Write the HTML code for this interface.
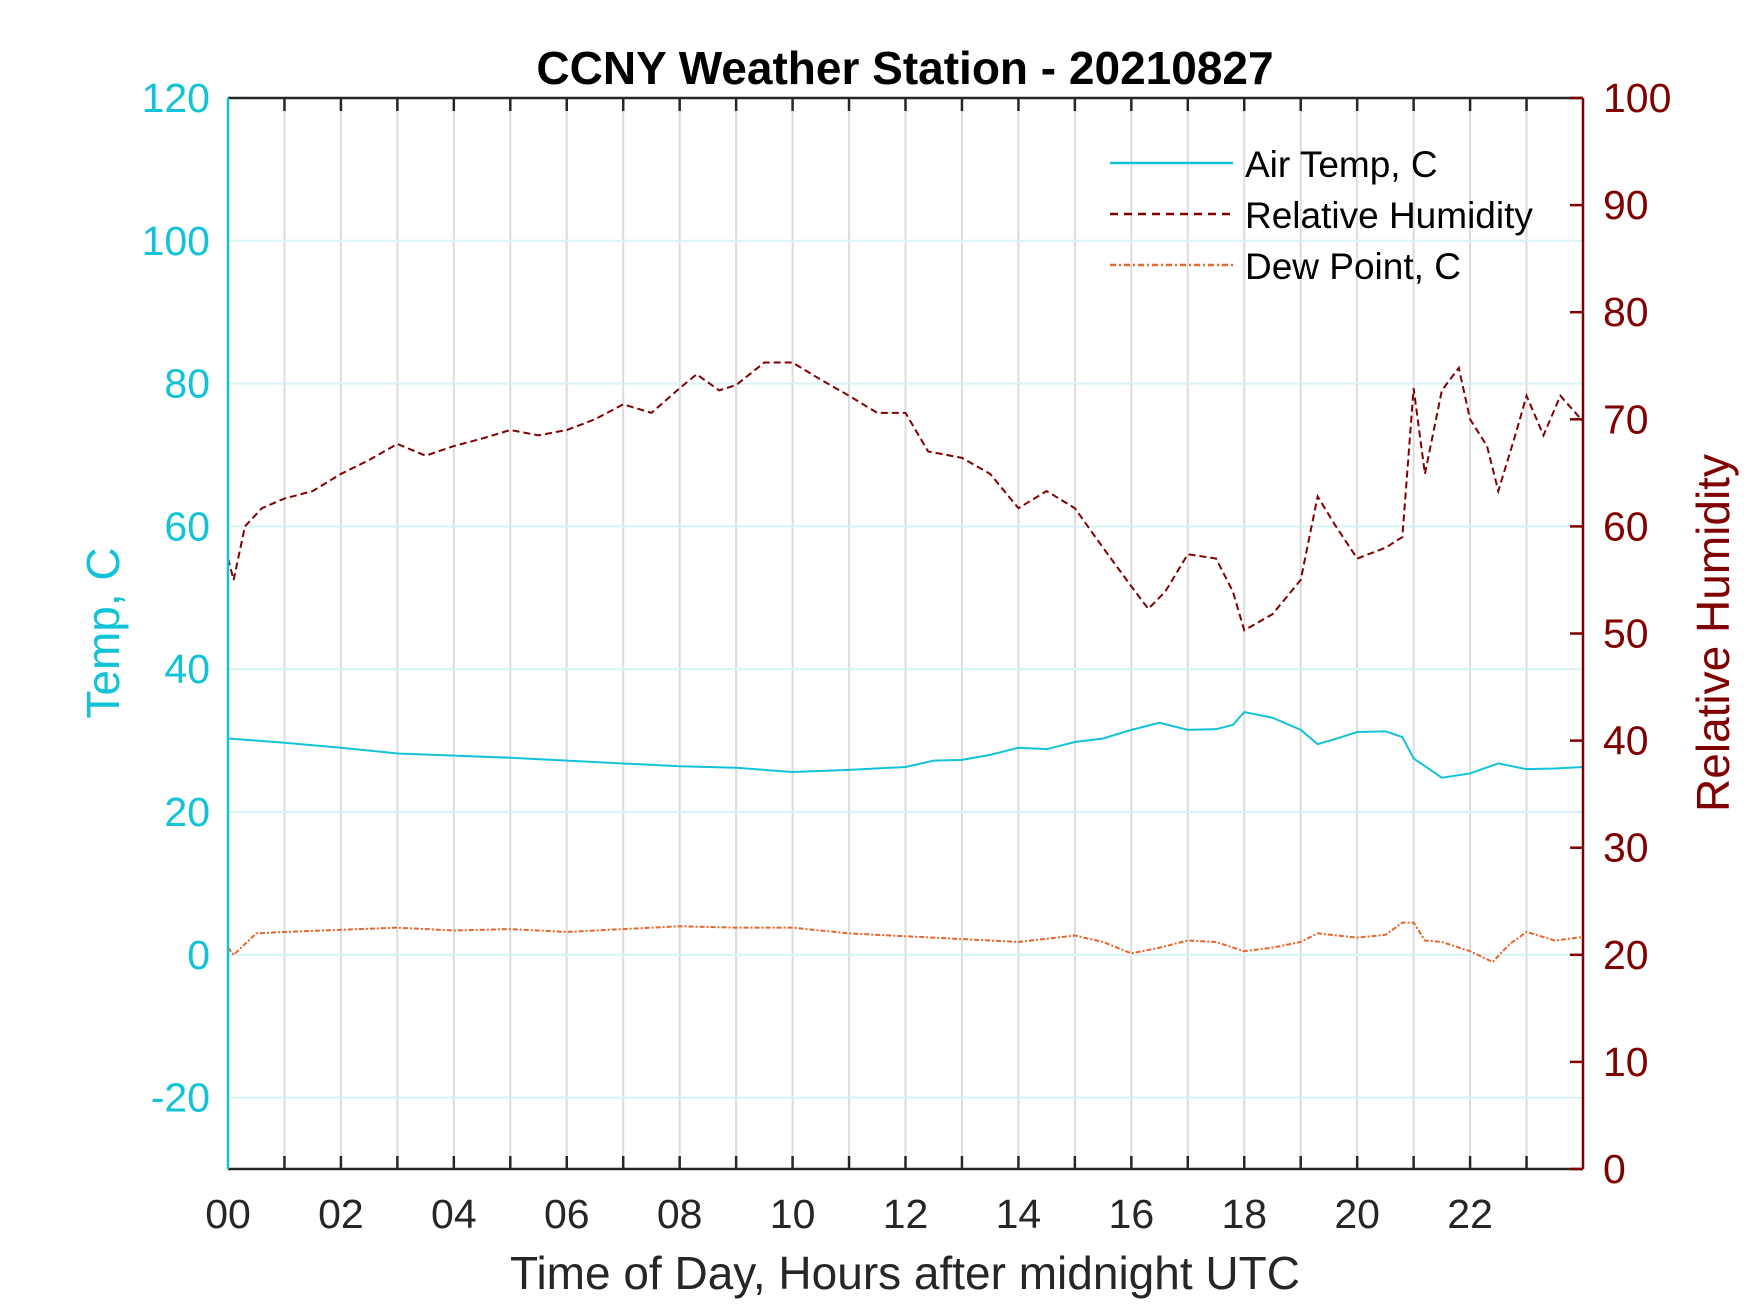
<!DOCTYPE html>
<html><head><meta charset="utf-8"><style>
body{margin:0;background:#fff}
svg{display:block;font-family:"Liberation Sans",Arial,sans-serif}
</style></head><body>
<svg id="chart" width="1750" height="1313" viewBox="0 0 1750 1313" xmlns="http://www.w3.org/2000/svg">
<rect width="1750" height="1313" fill="#fff"/>
<g id="grid"></g>
<g id="series"></g>
<g id="axes"></g>
<text x="905" y="84" text-anchor="middle" font-size="46" font-weight="bold" fill="#000">CCNY Weather Station - 20210827</text>
<text x="905" y="1289" text-anchor="middle" font-size="46" fill="#262626">Time of Day, Hours after midnight UTC</text>
<text transform="translate(119,633) rotate(-90)" text-anchor="middle" font-size="46" fill="#12c3d8">Temp, C</text>
<text transform="translate(1729,633) rotate(-90)" text-anchor="middle" font-size="46" fill="#800000">Relative Humidity</text>
<g>
<line x1="1110" y1="163" x2="1233" y2="163" stroke="#12c3d8" stroke-width="2.5"/>
<text x="1245" y="177" font-size="37" fill="#000">Air Temp, C</text>
<line x1="1110" y1="214" x2="1233" y2="214" stroke="#800000" stroke-width="2.5" stroke-dasharray="8 6"/>
<text x="1245" y="228" font-size="37" fill="#000">Relative Humidity</text>
<line x1="1110" y1="265" x2="1233" y2="265" stroke="#e8652a" stroke-width="2.5" stroke-dasharray="6 3 2 3"/>
<text x="1245" y="279" font-size="37" fill="#000">Dew Point, C</text>
</g>
</svg>
<script>
const tempHours=[0,1,2,3,4,5,6,7,8,9,10,11,12,12.5,13,13.5,14,14.5,15,15.5,16,16.5,17,17.5,17.8,18,18.5,19,19.3,19.6,20,20.5,20.8,21,21.5,22,22.5,23,23.5,24];
const tempValues=[30.3,29.7,29.0,28.2,27.9,27.6,27.2,26.8,26.4,26.2,25.6,25.9,26.3,27.2,27.3,28.0,29.0,28.8,29.8,30.3,31.5,32.5,31.5,31.6,32.2,34.0,33.2,31.5,29.5,30.2,31.2,31.3,30.5,27.5,24.8,25.4,26.8,26.0,26.1,26.3];
const rhHours=[0,0.1,0.3,0.6,1,1.5,2,2.5,3,3.5,4,4.5,5,5.5,6,6.5,7,7.5,8,8.3,8.7,9,9.5,10,10.5,11,11.5,12,12.4,13,13.5,14,14.5,15,15.5,16,16.3,16.6,17,17.5,17.8,18,18.5,19,19.3,19.6,20,20.5,20.8,21,21.2,21.5,21.8,22,22.3,22.5,22.8,23,23.3,23.6,24];
const rhValues=[57,55,60,61.7,62.6,63.3,64.9,66.2,67.7,66.6,67.5,68.2,69,68.5,69,70,71.4,70.6,72.9,74.2,72.7,73.2,75.3,75.3,73.7,72.2,70.6,70.6,67,66.4,64.9,61.7,63.3,61.7,58,54.4,52.3,53.9,57.4,57,53.9,50.3,51.8,55,62.8,60.2,57,58,59,72.9,64.9,72.7,74.8,70,67.5,63.3,68.5,72.2,68.5,72.2,69.8];
const dewHours=[0,0.1,0.5,1,2,3,4,5,6,7,8,9,10,11,12,13,14,15,15.5,16,16.5,17,17.5,18,18.5,19,19.3,20,20.5,20.8,21,21.2,21.5,22,22.4,22.7,23,23.5,24];
const dewValues=[1,0,3,3.2,3.5,3.8,3.4,3.6,3.2,3.6,4.0,3.8,3.8,3.0,2.6,2.2,1.8,2.7,1.8,0.2,1.0,2.0,1.8,0.5,1.0,1.8,3.0,2.4,2.8,4.5,4.5,2.0,1.8,0.5,-1,1.5,3.2,2.0,2.5];
const xTicks=[0,2,4,6,8,10,12,14,16,18,20,22];
const xTickLabels=["00","02","04","06","08","10","12","14","16","18","20","22"];
const tempTicks=[-20,0,20,40,60,80,100,120];
const rhTicks=[0,10,20,30,40,50,60,70,80,90,100];

const L=228,R=1583,T=98,B=1169;
const xS=h=>L+(R-L)*h/24;
const yT=v=>T+(B-T)*(120-v)/150;
const yR=v=>T+(B-T)*(100-v)/100;
const NS="http://www.w3.org/2000/svg";
function mk(tag,attrs,parent){const e=document.createElementNS(NS,tag);for(const k in attrs)e.setAttribute(k,attrs[k]);parent.appendChild(e);return e;}
const grid=document.getElementById('grid'),series=document.getElementById('series'),axes=document.getElementById('axes');
for(let h=1;h<24;h++){const g=mk('line',{x1:xS(h),x2:xS(h),y1:T,y2:B,stroke:'#dcdcdc','stroke-width':2},grid);

}
tempTicks.forEach(v=>{const g=mk('line',{x1:L,x2:R,y1:yT(v),y2:yT(v),stroke:'#d8f3f6','stroke-width':2},grid);

});
function poly(hs,vs,f,attrs,name){const p=mk('polyline',Object.assign({points:hs.map((h,i)=>xS(h)+','+f(vs[i])).join(' '),fill:'none'},attrs),series);

}
poly(rhHours,rhValues,yR,{stroke:'#800000','stroke-width':2,'stroke-dasharray':'7 4'},'rh-line');
poly(tempHours,tempValues,yT,{stroke:'#12c3d8','stroke-width':2},'air-temp-line');
poly(dewHours,dewValues,yT,{stroke:'#e8652a','stroke-width':2,'stroke-dasharray':'5 2 2 2'},'dew-point-line');
const ax=[[L,B,R,B,'#262626'],[L,T,R,T,'#262626'],[L,T,L,B,'#12c3d8'],[R,T,R,B,'#800000']];
ax.forEach(a=>{const l=mk('line',{x1:a[0],y1:a[1],x2:a[2],y2:a[3],stroke:a[4],'stroke-width':2.5},axes);

});
for(let h=1;h<24;h++){[[B,B-13],[T,T+13]].forEach(p=>{const l=mk('line',{x1:xS(h),x2:xS(h),y1:p[0],y2:p[1],stroke:'#262626','stroke-width':2.5},axes);

});}
xTicks.forEach((h,i)=>{const t=mk('text',{x:xS(h),y:1228,'text-anchor':'middle','font-size':41,fill:'#262626'},axes);t.textContent=xTickLabels[i];

});
tempTicks.forEach(v=>{const t=mk('text',{x:210,y:yT(v)+14,'text-anchor':'end','font-size':41,fill:'#12c3d8'},axes);t.textContent=v;

});
rhTicks.forEach(v=>{const l=mk('line',{x1:R,x2:R-13,y1:yR(v),y2:yR(v),stroke:'#800000','stroke-width':2.5},axes);


const t=mk('text',{x:1603,y:yR(v)+14,'font-size':41,fill:'#800000'},axes);t.textContent=v;

});
</script>
</body></html>
